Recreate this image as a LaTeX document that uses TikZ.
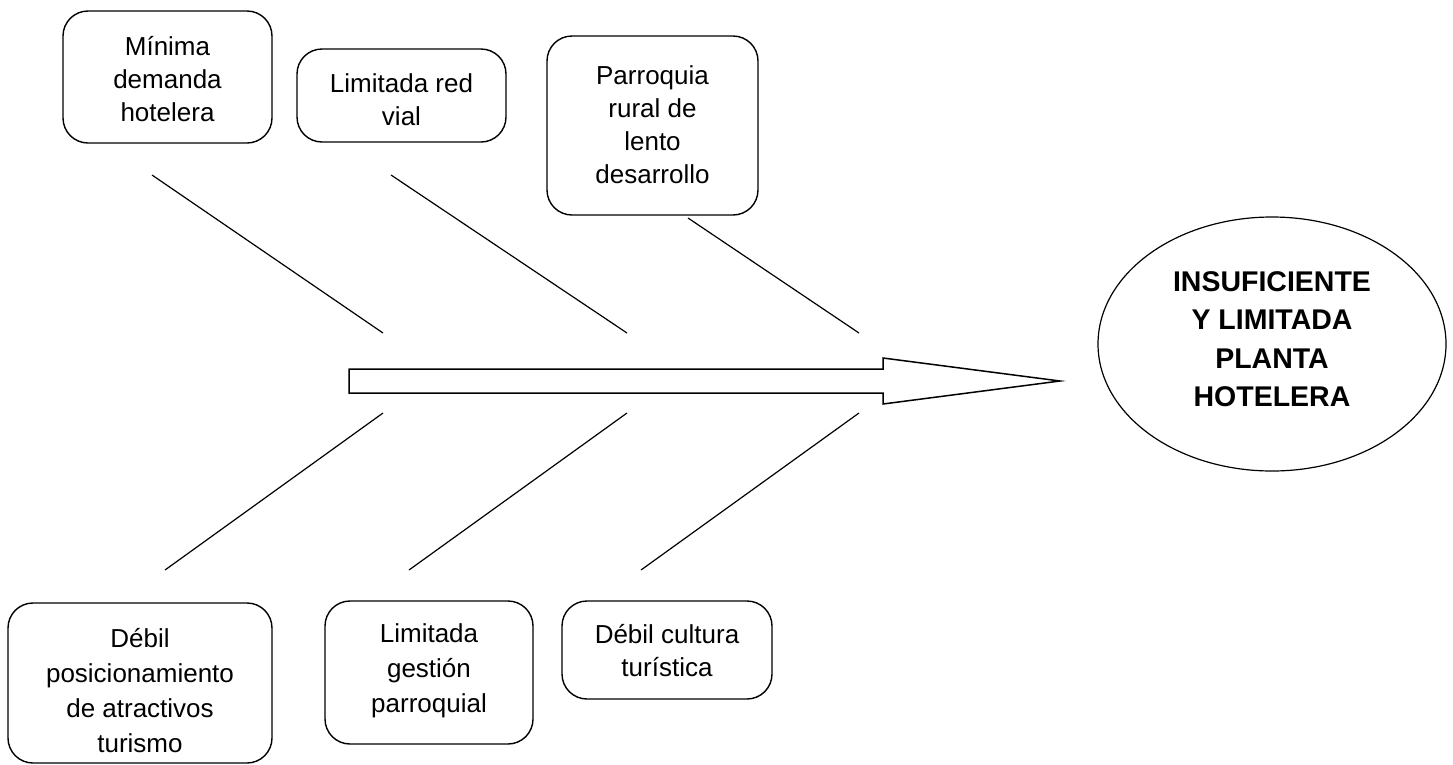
\documentclass[tikz,border=0pt]{standalone}
\usepackage{fontspec}
\setmainfont{Liberation Sans}
\usetikzlibrary{shapes.geometric}
\begin{document}
\begin{tikzpicture}[x=1pt,y=-1pt,
  box/.style={draw, line width=1.4pt, rounded corners=25pt, inner sep=0pt},
  txt/.style={align=center, inner sep=0pt, font=\fontsize{26}{33}\selectfont},
  bone/.style={line width=1.2pt},
  effect/.style={draw, ellipse, line width=1.2pt, inner sep=0pt, minimum width=348pt, minimum height=254pt},
  efftxt/.style={align=center, inner sep=0pt, font=\fontsize{28.5}{38.5}\selectfont\bfseries}]
\useasboundingbox (0,0) rectangle (1453,764);
% cause boxes
\node[box, minimum width=209pt, minimum height=132pt] (b1) at (167.5,77) {};
\node[txt] (t1) at (167.5,79) {Mínima\\demanda\\hotelera};
\node[box, minimum width=209pt, minimum height=93pt] (b2) at (401.5,95.5) {};
\node[txt] (t2) at (401.5,100) {Limitada red\\vial};
\node[box, minimum width=211pt, minimum height=179pt] (b3) at (652.5,125.5) {};
\node[txt] (t3) at (652.5,125) {Parroquia\\rural de\\lento\\desarrollo};
\node[box, minimum width=264pt, minimum height=160pt] (b4) at (140,683) {};
\node[txt, font=\fontsize{26}{35}\selectfont] (t4) at (140,691) {Débil\\posicionamiento\\de atractivos\\turismo};
\node[box, minimum width=208pt, minimum height=143pt] (b5) at (429,672.5) {};
\node[txt, font=\fontsize{26}{35}\selectfont] (t5) at (429,671) {Limitada\\gestión\\parroquial};
\node[box, minimum width=210pt, minimum height=98pt] (b6) at (667,650) {};
\node[txt] (t6) at (667,651) {Débil cultura\\turística};
% effect
\node[effect] (e) at (1272,344) {};
\node[efftxt] (et) at (1272,339) {INSUFICIENTE\\Y LIMITADA\\PLANTA\\HOTELERA};
% main arrow
\draw[line width=1.5pt, line join=miter] (349,369) -- (883,369) -- (883,358) -- (1060,381) -- (883,404) -- (883,393) -- (349,393) -- cycle;
% bones
\coordinate (u1a) at (152,175); \coordinate (u1b) at (383,333);
\coordinate (u2a) at (391,175); \coordinate (u2b) at (627,333);
\coordinate (u3a) at (688,218); \coordinate (u3b) at (859,333);
\coordinate (l1a) at (383,413); \coordinate (l1b) at (165,570);
\coordinate (l2a) at (627,413); \coordinate (l2b) at (409,570);
\coordinate (l3a) at (859,413); \coordinate (l3b) at (641,570);
\draw[bone] (u1a) -- (u1b);
\draw[bone] (u2a) -- (u2b);
\draw[bone] (u3a) -- (u3b);
\draw[bone] (l1a) -- (l1b);
\draw[bone] (l2a) -- (l2b);
\draw[bone] (l3a) -- (l3b);
\end{tikzpicture}
\end{document}
